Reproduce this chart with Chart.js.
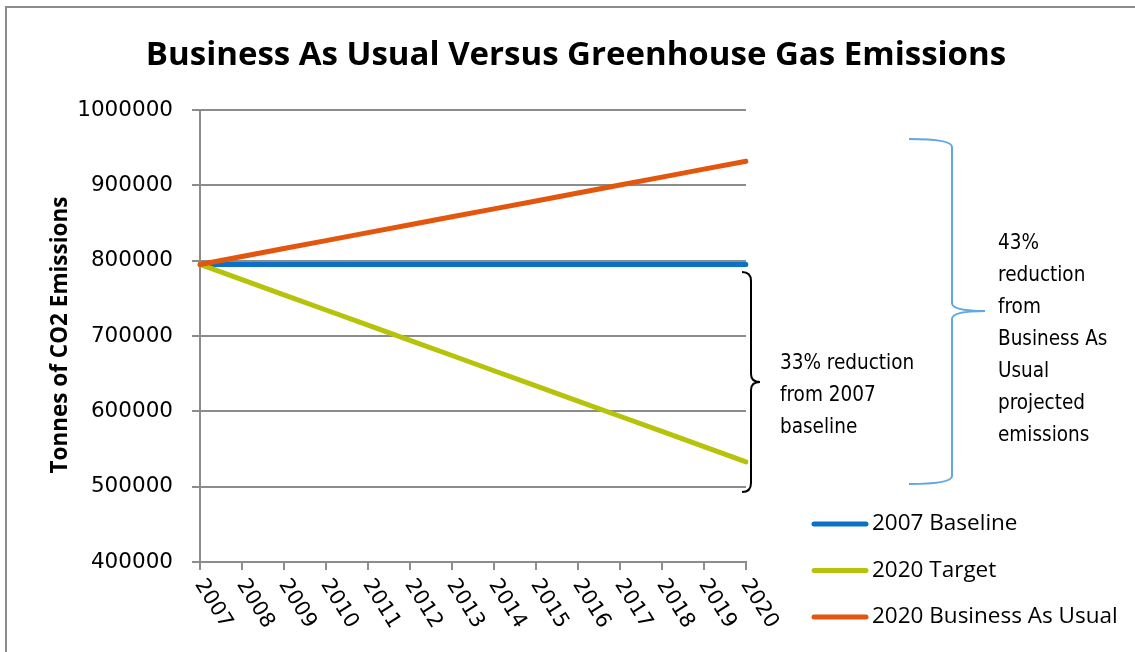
<!DOCTYPE html>
<html>
<head>
<meta charset="utf-8">
<script src="https://cdn.jsdelivr.net/npm/chart.js@4.4.1/dist/chart.umd.min.js"></script>
<style>
  html, body { margin: 0; padding: 0; background: #fff; }
  #wrap { width: 1135px; height: 652px; }
</style>
</head>
<body>
<div id="wrap"><canvas id="emissionsChart" width="1135" height="652"></canvas></div>
<script>
// Emissions trajectories, tonnes of CO2 per year
const years = ['2007', '2008', '2009', '2010', '2011', '2012', '2013', '2014', '2015', '2016', '2017', '2018', '2019', '2020'];
const baseline2007 = [795000, 795000, 795000, 795000, 795000, 795000, 795000, 795000, 795000, 795000, 795000, 795000, 795000, 795000];
const target2020 = [795000, 774800, 754700, 734500, 714400, 694200, 674100, 653900, 633800, 613600, 593500, 573300, 553200, 533000];
const businessAsUsual = [795000, 805500, 816100, 826600, 837200, 847700, 858200, 868800, 879300, 889800, 900400, 910900, 921500, 932000];
const yTicks = [400000, 500000, 600000, 700000, 800000, 900000, 1000000];

const seriesNames = ['2007 Baseline', '2020 Target', '2020 Business As Usual'];
const seriesColors = ['#0a70c8', '#b7c30a', '#e2560e'];

const titleText = 'Business As Usual Versus Greenhouse Gas Emissions';
const yTitleText = 'Tonnes of CO2 Emissions';
const noteBaseline = ['33% reduction', 'from 2007', 'baseline'];
const noteBau = ['43%', 'reduction', 'from', 'Business As', 'Usual', 'projected', 'emissions'];

const tickFont = '21px "DejaVu Sans"';
const noteFont = '20.5px "DejaVu Sans Condensed", "DejaVu Sans"';

// Titles, rotated year labels, braces, notes and legend
const decorations = {
    id: 'decorations',
    afterDraw(chart) {
        const ctx = chart.ctx;
        const x = chart.scales.x;
        const area = chart.chartArea;
        ctx.save();

        // outer frame
        ctx.strokeStyle = '#8c8c8c';
        ctx.lineWidth = 2;
        ctx.beginPath();
        ctx.moveTo(6, 660);
        ctx.lineTo(6, 7);
        ctx.lineTo(1140, 7);
        ctx.stroke();

        // chart title
        ctx.fillStyle = '#000';
        ctx.font = 'bold 33px "Open Sans"';
        ctx.textAlign = 'center';
        ctx.textBaseline = 'alphabetic';
        ctx.fillText(titleText, 576, 65);

        // y axis title
        ctx.save();
        ctx.translate(67, 335);
        ctx.rotate(-Math.PI / 2);
        ctx.font = 'bold 22.5px "Open Sans"';
        ctx.textAlign = 'center';
        ctx.fillText(yTitleText, 0, 0);
        ctx.restore();

        // year labels, slanted downwards
        ctx.font = tickFont;
        ctx.textAlign = 'left';
        ctx.textBaseline = 'middle';
        years.forEach((label, i) => {
            const px = x.getPixelForValue(i);
            ctx.save();
            ctx.translate(px - 1, area.bottom + 19);
            ctx.rotate(58 * Math.PI / 180);
            ctx.fillText(label, 0, 0);
            ctx.restore();
        });

        // black brace: baseline down to the 2020 target
        ctx.strokeStyle = '#000';
        ctx.lineWidth = 2;
        ctx.beginPath();
        ctx.moveTo(742, 272);
        ctx.quadraticCurveTo(751, 272, 751, 281);
        ctx.lineTo(751, 374);
        ctx.quadraticCurveTo(751, 382, 760, 382);
        ctx.quadraticCurveTo(751, 382, 751, 390);
        ctx.lineTo(751, 483);
        ctx.quadraticCurveTo(751, 492, 742, 492);
        ctx.stroke();

        // blue brace: business as usual down to the target
        ctx.strokeStyle = '#62a6e2';
        ctx.beginPath();
        ctx.moveTo(909, 139);
        ctx.quadraticCurveTo(952, 139, 952, 147);
        ctx.lineTo(952, 303);
        ctx.quadraticCurveTo(952, 311, 985, 311);
        ctx.quadraticCurveTo(952, 311, 952, 319);
        ctx.lineTo(952, 476);
        ctx.quadraticCurveTo(952, 484, 909, 484);
        ctx.stroke();

        // notes
        ctx.fillStyle = '#000';
        ctx.font = noteFont;
        ctx.textAlign = 'left';
        ctx.textBaseline = 'middle';
        noteBaseline.forEach((line, i) => ctx.fillText(line, 780, 364 + i * 32));
        noteBau.forEach((line, i) => ctx.fillText(line, 998, 244 + i * 32));

        // legend
        ctx.font = '22.5px "Open Sans"';
        ctx.lineWidth = 5;
        ctx.lineCap = 'round';
        chart.data.datasets.forEach((ds, i) => {
            const cy = 524 + i * 46.5;
            ctx.strokeStyle = ds.borderColor;
            ctx.beginPath();
            ctx.moveTo(814, cy);
            ctx.lineTo(866, cy);
            ctx.stroke();
            ctx.fillText(ds.label, 872, cy);
        });

        ctx.restore();
    }
};

const ctx = document.getElementById('emissionsChart').getContext('2d');
new Chart(ctx, {
    type: 'line',
    data: {
        labels: years,
        datasets: [{
            label: seriesNames[0],
            data: baseline2007,
            borderColor: seriesColors[0],
            order: 2
        }, {
            label: seriesNames[1],
            data: target2020,
            borderColor: seriesColors[1],
            order: 1
        }, {
            label: seriesNames[2],
            data: businessAsUsual,
            borderColor: seriesColors[2],
            order: 0
        }]
    },
    options: {
        responsive: false,
        animation: false,
        devicePixelRatio: 1,
        layout: {
            padding: { top: 110, right: 389, bottom: 0, left: 0 }
        },
        elements: {
            line: { borderWidth: 5, tension: 0, borderCapStyle: 'round' },
            point: { radius: 0 }
        },
        plugins: {
            legend: { display: false },
            tooltip: { enabled: false }
        },
        scales: {
            x: {
                offset: false,
                grid: { drawOnChartArea: false, drawTicks: true, tickLength: 8, color: '#8c8c8c', lineWidth: 2 },
                border: { color: '#8c8c8c', width: 2 },
                ticks: { display: false },
                afterFit(scale) { scale.height = 90; }
            },
            y: {
                min: 400000,
                max: 1000000,
                afterBuildTicks(scale) { scale.ticks = yTicks.map(v => ({ value: v })); },
                grid: { color: '#8c8c8c', lineWidth: 2, tickLength: 8 },
                border: { color: '#8c8c8c', width: 2 },
                ticks: {
                    font: { family: 'DejaVu Sans', size: 21.5 },
                    color: '#000',
                    padding: 19,
                    callback: (value) => String(value)
                },
                afterFit(scale) { scale.width = 200; }
            }
        }
    },
    plugins: [decorations]
});
</script>
</body>
</html>
